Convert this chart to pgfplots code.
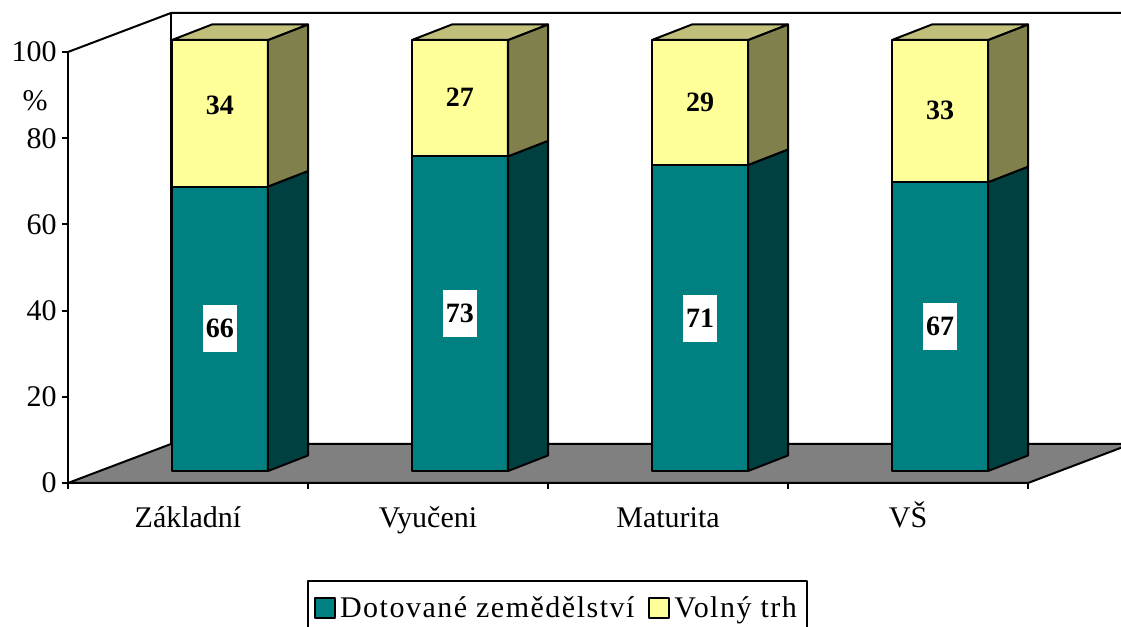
\documentclass[border=0pt]{standalone}
\usepackage{fontspec}
\setmainfont{Liberation Serif}
\newfontfamily\legfont[LetterSpace=5]{Liberation Serif}
\usepackage{pgfplots}
\pgfplotsset{compat=1.18}
\definecolor{tealF}{RGB}{0,128,128}
\definecolor{tealS}{RGB}{0,64,64}
\definecolor{yelF}{RGB}{255,255,153}
\definecolor{yelS}{RGB}{128,128,77}
\definecolor{yelT}{RGB}{192,192,122}
\definecolor{floorC}{RGB}{128,128,128}
\begin{document}
\begin{tikzpicture}[line join=round]
\begin{axis}[
  scale only axis, width=480pt, height=215.5pt,
  xmin=0, xmax=4, ymin=0, ymax=100, clip=false,
  axis x line*=bottom, axis y line*=left,
  axis line style={-, line width=1pt},
  ytick={0,20,...,100},
  xtick={0.5,1.5,2.5,3.5},
  xticklabels={Základní,Vyučeni,Maturita,VŠ},
  minor xtick={0,1,2,3,4},
  tick align=outside,
  major tick length=3pt, minor tick length=3pt,
  tick style={black, line width=1pt},
  major x tick style={draw=none},
  /pgf/number format/assume math mode=true,
  tick label style={font=\fontsize{15pt}{18pt}\selectfont},
  yticklabel style={xshift=0.8pt},
  xticklabel style={anchor=base, yshift=-19.5pt},
  legend columns=2,
  legend style={at={(rel axis cs:0.249,-0.225)}, anchor=north west,
    draw=black, line width=1pt, inner xsep=3pt, inner ysep=6pt,
    font=\legfont\fontsize{15pt}{18pt}\selectfont,
    /tikz/every even column/.append style={column sep=5pt},
    cells={anchor=west}},
  legend image code/.code={\draw[#1, line width=1pt] (0pt,-4.5pt) rectangle (10pt,5.5pt);},
]
% floor and walls
\addplot[forget plot, fill=floorC, draw=black, line width=1pt] coordinates {(0,0) (4,0) (4.4292,9.05) (0.4292,9.05)} -- cycle;
\addplot[forget plot, black, line width=1pt] coordinates {(0,100) (0.4292,109.05) (4.4292,109.05)};
\addplot[forget plot, black, line width=1pt] coordinates {(0.4292,9.05) (0.4292,109.05)};
% bar 1 (legend carriers)
\addplot[fill=tealF, draw=black, line width=1pt] coordinates {(0.4333,2.78) (0.8333,2.78) (0.8333,68.78) (0.4333,68.78)} -- cycle;
\addlegendentry{Dotované zemědělství}
\addplot[fill=yelF, draw=black, line width=1pt] coordinates {(0.4333,68.78) (0.8333,68.78) (0.8333,102.78) (0.4333,102.78)} -- cycle;
\addlegendentry{Volný trh}
\addplot[forget plot, fill=tealS, draw=black, line width=1pt] coordinates {(0.8333,2.78) (1.0,6.38) (1.0,72.38) (0.8333,68.78)} -- cycle;
\addplot[forget plot, fill=yelS, draw=black, line width=1pt] coordinates {(0.8333,68.78) (1.0,72.38) (1.0,106.38) (0.8333,102.78)} -- cycle;
\addplot[forget plot, fill=yelT, draw=black, line width=1pt] coordinates {(0.4333,102.78) (0.8333,102.78) (1.0,106.38) (0.6,106.38)} -- cycle;
% bar 2
\addplot[forget plot, fill=tealF, draw=black, line width=1pt] coordinates {(1.4333,2.78) (1.8333,2.78) (1.8333,75.78) (1.4333,75.78)} -- cycle;
\addplot[forget plot, fill=yelF, draw=black, line width=1pt] coordinates {(1.4333,75.78) (1.8333,75.78) (1.8333,102.78) (1.4333,102.78)} -- cycle;
\addplot[forget plot, fill=tealS, draw=black, line width=1pt] coordinates {(1.8333,2.78) (2.0,6.38) (2.0,79.38) (1.8333,75.78)} -- cycle;
\addplot[forget plot, fill=yelS, draw=black, line width=1pt] coordinates {(1.8333,75.78) (2.0,79.38) (2.0,106.38) (1.8333,102.78)} -- cycle;
\addplot[forget plot, fill=yelT, draw=black, line width=1pt] coordinates {(1.4333,102.78) (1.8333,102.78) (2.0,106.38) (1.6,106.38)} -- cycle;
% bar 3
\addplot[forget plot, fill=tealF, draw=black, line width=1pt] coordinates {(2.4333,2.78) (2.8333,2.78) (2.8333,73.78) (2.4333,73.78)} -- cycle;
\addplot[forget plot, fill=yelF, draw=black, line width=1pt] coordinates {(2.4333,73.78) (2.8333,73.78) (2.8333,102.78) (2.4333,102.78)} -- cycle;
\addplot[forget plot, fill=tealS, draw=black, line width=1pt] coordinates {(2.8333,2.78) (3.0,6.38) (3.0,77.38) (2.8333,73.78)} -- cycle;
\addplot[forget plot, fill=yelS, draw=black, line width=1pt] coordinates {(2.8333,73.78) (3.0,77.38) (3.0,106.38) (2.8333,102.78)} -- cycle;
\addplot[forget plot, fill=yelT, draw=black, line width=1pt] coordinates {(2.4333,102.78) (2.8333,102.78) (3.0,106.38) (2.6,106.38)} -- cycle;
% bar 4
\addplot[forget plot, fill=tealF, draw=black, line width=1pt] coordinates {(3.4333,2.78) (3.8333,2.78) (3.8333,69.78) (3.4333,69.78)} -- cycle;
\addplot[forget plot, fill=yelF, draw=black, line width=1pt] coordinates {(3.4333,69.78) (3.8333,69.78) (3.8333,102.78) (3.4333,102.78)} -- cycle;
\addplot[forget plot, fill=tealS, draw=black, line width=1pt] coordinates {(3.8333,2.78) (4.0,6.38) (4.0,73.38) (3.8333,69.78)} -- cycle;
\addplot[forget plot, fill=yelS, draw=black, line width=1pt] coordinates {(3.8333,69.78) (4.0,73.38) (4.0,106.38) (3.8333,102.78)} -- cycle;
\addplot[forget plot, fill=yelT, draw=black, line width=1pt] coordinates {(3.4333,102.78) (3.8333,102.78) (4.0,106.38) (3.6,106.38)} -- cycle;
% value labels
\addplot[forget plot, draw=none, mark=none, point meta=explicit symbolic, nodes near coords,
  every node near coord/.append style={anchor=center, fill=white, text=black, inner xsep=1.5pt, inner ysep=0pt, minimum height=23.5pt, font=\bfseries\fontsize{14pt}{16pt}\selectfont}]
  coordinates {(0.6333,35.78)[66] (1.6333,39.28)[73] (2.6333,38.28)[71] (3.6333,36.28)[67]};
\addplot[forget plot, draw=none, mark=none, point meta=explicit symbolic, nodes near coords,
  every node near coord/.append style={anchor=center, text=black, font=\bfseries\fontsize{14pt}{16pt}\selectfont}]
  coordinates {(0.6333,87.5)[34] (1.6333,89.6)[27] (2.6333,88.2)[29] (3.6333,86.5)[33]};
\node[font=\fontsize{15pt}{18pt}\selectfont] at (axis cs:-0.1375,88.6) {\%};
\coordinate (bbA) at (axis cs:-0.28333,-33.41);
\coordinate (bbB) at (axis cs:4.3875,112.06);
\end{axis}
\pgfresetboundingbox
\path[use as bounding box] (bbA) rectangle (bbB);
\end{tikzpicture}
\end{document}
